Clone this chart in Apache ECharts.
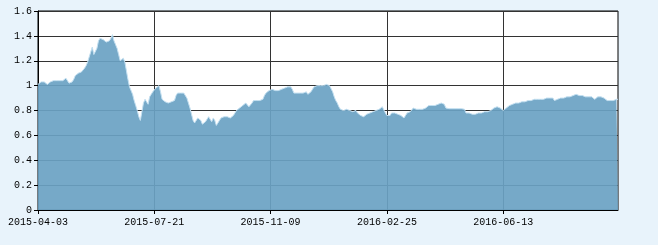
<!DOCTYPE html>
<html>
<head>
<meta charset="utf-8">
<style>
html,body{margin:0;padding:0;background:#e8f3fb;}
#c{width:658px;height:245px;}
</style>
<script src="https://cdn.jsdelivr.net/npm/echarts@6/dist/echarts.min.js"></script>
</head>
<body>
<div id="c"></div>
<script>
// Trading calendar: weekdays from the start date, minus these closed days
const startDate = '2015-04-03';
const closedDays = ['2015-04-06','2015-05-01','2015-09-03','2015-09-04','2015-10-01','2015-10-02',
  '2016-01-01','2016-02-08','2016-02-09','2016-04-04','2016-05-02','2016-09-15','2016-09-16'];
const tickLabels = ['2015-04-03','2015-07-21','2015-11-09','2016-02-25','2016-06-13'];
const yTicks = [0,0.2,0.4,0.6,0.8,1,1.2,1.4,1.6];

const navValues = [
  // 0-24
  1.01,1.02,1.03,1.02,1.03,1.02,1.01,1.02,1.03,1.02,1.04,1.05,1.04,1.05,1.04,1.05,1.04,1.05,1.06,1.04,1.02,1.01,1.03,1.05,1.08,
  // 25-49
  1.09,1.10,1.10,1.11,1.12,1.14,1.16,1.19,1.23,1.27,1.31,1.25,1.26,1.30,1.36,1.38,1.38,1.37,1.36,1.35,1.34,1.36,1.38,1.41,1.36,
  // 50-74
  1.33,1.30,1.25,1.20,1.21,1.22,1.19,1.12,1.05,0.99,1.00,0.93,0.88,0.84,0.80,0.75,0.72,0.79,0.86,0.89,0.87,0.85,0.91,0.93,0.95,
  // 75-99
  0.96,0.98,0.99,1.00,0.95,0.89,0.90,0.87,0.88,0.86,0.87,0.87,0.88,0.88,0.92,0.94,0.93,0.94,0.93,0.94,0.92,0.90,0.86,0.82,0.77,
  // 100-124
  0.72,0.70,0.71,0.74,0.75,0.72,0.69,0.68,0.71,0.72,0.75,0.73,0.71,0.74,0.72,0.68,0.70,0.72,0.74,0.74,0.75,0.74,0.75,0.75,0.74,
  // 125-149
  0.75,0.76,0.78,0.80,0.81,0.82,0.83,0.84,0.85,0.86,0.86,0.83,0.82,0.86,0.88,0.89,0.88,0.87,0.88,0.87,0.89,0.92,0.94,0.95,0.96,
  // 150-174
  0.97,0.97,0.96,0.96,0.97,0.96,0.97,0.97,0.96,0.98,0.98,0.99,0.98,0.99,0.97,0.94,0.94,0.94,0.93,0.94,0.94,0.94,0.95,0.95,0.93,
  // 175-199
  0.92,0.95,0.97,0.99,0.99,1.00,1.00,1.00,1.01,1.00,1.00,1.01,1.00,1.00,1.00,0.95,0.91,0.88,0.86,0.83,0.81,0.80,0.80,0.80,0.81,
  // 200-224
  0.80,0.80,0.80,0.79,0.80,0.80,0.78,0.77,0.76,0.75,0.75,0.76,0.77,0.77,0.78,0.78,0.79,0.79,0.80,0.81,0.81,0.82,0.83,0.82,0.78,
  // 225-249
  0.76,0.75,0.76,0.78,0.79,0.78,0.78,0.77,0.77,0.76,0.75,0.74,0.76,0.78,0.78,0.79,0.80,0.82,0.81,0.81,0.80,0.81,0.81,0.81,0.82,
  // 250-274
  0.82,0.83,0.84,0.83,0.84,0.85,0.84,0.84,0.85,0.85,0.86,0.86,0.85,0.82,0.815,0.815,0.815,0.815,0.815,0.815,0.815,0.815,0.815,0.815,0.815,
  // 275-299
  0.81,0.78,0.77,0.78,0.77,0.77,0.78,0.77,0.77,0.78,0.78,0.78,0.79,0.79,0.79,0.79,0.80,0.80,0.81,0.82,0.82,0.83,0.83,0.82,0.81,
  // 300-324
  0.80,0.81,0.82,0.83,0.84,0.84,0.85,0.85,0.86,0.86,0.86,0.87,0.87,0.87,0.87,0.88,0.88,0.88,0.88,0.89,0.89,0.88,0.89,0.89,0.89,
  // 325-349
  0.90,0.89,0.90,0.90,0.90,0.90,0.91,0.90,0.88,0.89,0.89,0.89,0.90,0.90,0.90,0.90,0.91,0.91,0.91,0.92,0.92,0.92,0.93,0.93,0.92,
  // 350-374
  0.92,0.92,0.92,0.91,0.91,0.91,0.91,0.91,0.90,0.89,0.90,0.91,0.91,0.91,0.90,0.90,0.89,0.88,0.88,0.88,0.88,0.88,0.88,0.89,0.89
];

function buildDates(start, n, closed) {
  const out = [];
  const skip = new Set(closed);
  const d = new Date(start + 'T00:00:00Z');
  while (out.length < n) {
    const s = d.toISOString().slice(0, 10);
    const wd = d.getUTCDay();
    if (wd !== 0 && wd !== 6 && !skip.has(s)) out.push(s);
    d.setUTCDate(d.getUTCDate() + 1);
  }
  return out;
}
const dates = buildDates(startDate, navValues.length, closedDays);
const labelStep = dates.indexOf(tickLabels[1]) - dates.indexOf(tickLabels[0]);

const chart = echarts.init(document.getElementById('c'), null, {renderer: 'canvas'});
const font = {fontFamily: 'Liberation Mono', fontSize: 10, color: '#000'};
chart.setOption({
  backgroundColor: '#e8f3fb',
  animation: false,
  grid: {left: 38, right: 40, top: 11, bottom: 35, show: true, backgroundColor: '#ffffff', borderColor: '#000', borderWidth: 1},
  xAxis: {
    type: 'category', data: dates, boundaryGap: false,
    axisLine: {lineStyle: {color: '#000', width: 1}},
    axisTick: {show: true, length: 4, interval: labelStep - 1, lineStyle: {color: '#000'}},
    axisLabel: Object.assign({interval: labelStep - 1, margin: 7, hideOverlap: false}, font),
    splitLine: {show: true, interval: labelStep - 1, lineStyle: {color: '#333', width: 1}}
  },
  yAxis: {
    type: 'value', min: yTicks[0], max: yTicks[yTicks.length - 1], interval: 0.2,
    axisLine: {show: true, lineStyle: {color: '#000', width: 1}},
    axisTick: {show: true, length: 4, lineStyle: {color: '#000'}},
    axisLabel: Object.assign({margin: 6}, font),
    splitLine: {show: true, lineStyle: {color: '#333', width: 1}}
  },
  series: [{
    type: 'line', data: navValues, showSymbol: false, symbol: 'none',
    lineStyle: {color: '#c4e0f1', width: 1},
    areaStyle: {color: 'rgb(106,162,195)', opacity: 0.92},
    z: 2
  }]
});
</script>
</body>
</html>
